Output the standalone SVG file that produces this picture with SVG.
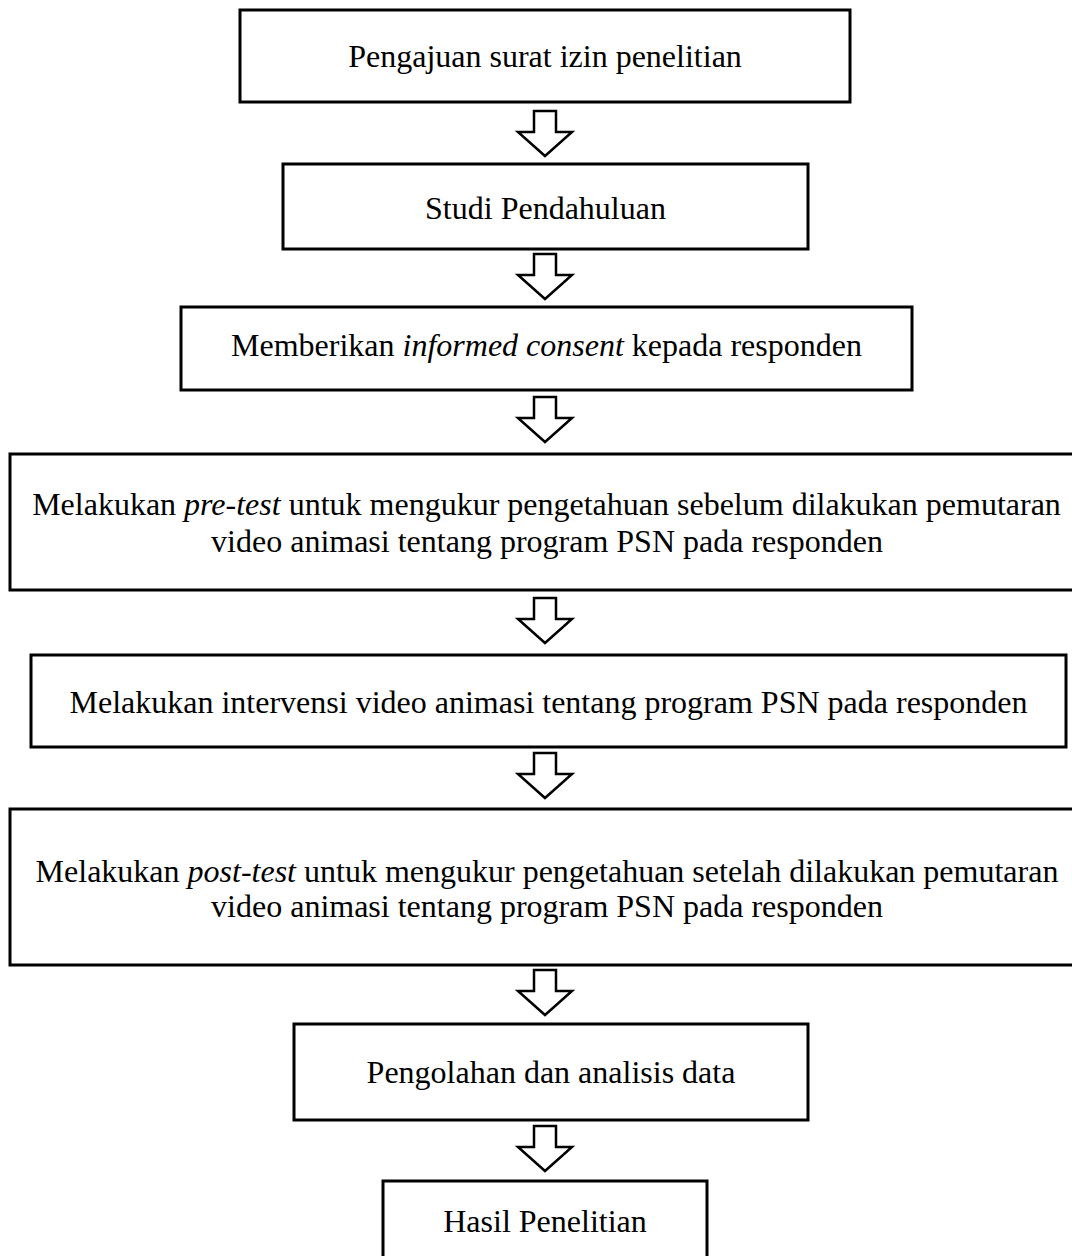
<svg xmlns="http://www.w3.org/2000/svg" width="1072" height="1256" viewBox="0 0 1072 1256">
<style>
.box{fill:#fff;stroke:#000;stroke-width:3}
.arr{fill:#fff;stroke:#000;stroke-width:2.5;stroke-linejoin:miter}
text{font-family:"Liberation Serif","Times New Roman",serif;font-size:32px;fill:#000;text-anchor:middle}
.i{font-style:italic}
</style>
<defs>
<polygon id="ar" points="-11,0 11,0 11,21 27,21 0,45 -27,21 -11,21"/>
</defs>
<rect width="1072" height="1256" fill="#fff"/>
<g id="n1"><rect class="box" x="240" y="10" width="610" height="92"/><text x="545" y="67">Pengajuan surat izin penelitian</text></g>
<g id="n2"><rect class="box" x="283" y="164" width="525" height="85"/><text x="545.5" y="219">Studi Pendahuluan</text></g>
<g id="n3"><rect class="box" x="181" y="307" width="731" height="83"/><text x="546.5" y="356">Memberikan <tspan class="i">informed consent</tspan> kepada responden</text></g>
<g id="n4"><rect class="box" x="10" y="454" width="1075" height="136"/><text x="546.5" y="515">Melakukan <tspan class="i">pre-test</tspan> untuk mengukur pengetahuan sebelum dilakukan pemutaran</text><text x="547" y="552">video animasi tentang program PSN pada responden</text></g>
<g id="n5"><rect class="box" x="31" y="655" width="1035" height="92"/><text x="548.5" y="713">Melakukan intervensi video animasi tentang program PSN pada responden</text></g>
<g id="n6"><rect class="box" x="10" y="809" width="1075" height="156"/><text x="547" y="882">Melakukan <tspan class="i">post-test</tspan> untuk mengukur pengetahuan setelah dilakukan pemutaran</text><text x="547" y="917">video animasi tentang program PSN pada responden</text></g>
<g id="n7"><rect class="box" x="294" y="1024" width="514" height="96"/><text x="551" y="1083">Pengolahan dan analisis data</text></g>
<g id="n8"><rect class="box" x="383" y="1181" width="324" height="90"/><text x="545" y="1232">Hasil Penelitian</text></g>
<g id="connectors">
<use href="#ar" class="arr" x="545" y="111"/>
<use href="#ar" class="arr" x="545" y="254"/>
<use href="#ar" class="arr" x="545" y="397"/>
<use href="#ar" class="arr" x="545" y="598"/>
<use href="#ar" class="arr" x="545" y="753"/>
<use href="#ar" class="arr" x="545" y="970"/>
<use href="#ar" class="arr" x="545" y="1126"/>
</g>
</svg>
